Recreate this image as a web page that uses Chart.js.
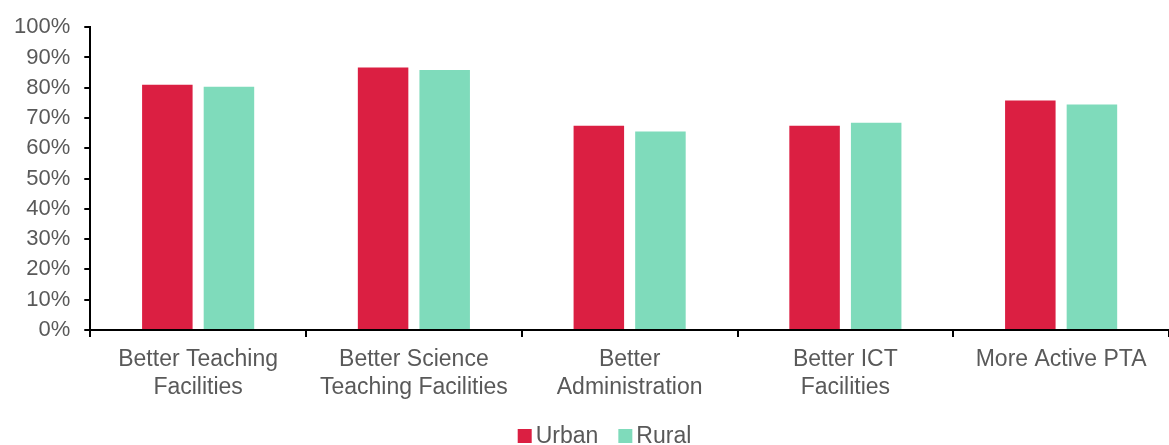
<!DOCTYPE html>
<html>
<head>
<meta charset="utf-8">
<script src="https://cdn.jsdelivr.net/npm/chart.js@4"></script>
<style>
    html, body { margin: 0; padding: 0; background: #fff; overflow: hidden; }
    #wrap { width: 1169px; height: 445px; }
</style>
</head>
<body>
<div id="wrap"><canvas id="chart"></canvas></div>
<script>
const categories = [
    ["Better Teaching", "Facilities"],
    ["Better Science", "Teaching Facilities"],
    ["Better", "Administration"],
    ["Better ICT", "Facilities"],
    "More Active PTA"
];
const urban = [81.0, 86.7, 67.4, 67.4, 75.8];
const rural = [80.3, 85.9, 65.5, 68.4, 74.5];
const yTicks = [0, 10, 20, 30, 40, 50, 60, 70, 80, 90, 100];

const textColor = "#595959";
const fontFamily = "'Liberation Sans', Arial, sans-serif";

// legend drawn by hand so the box/text spacing stays tight
const bottomLegend = {
    id: "bottomLegend",
    afterDraw(chart) {
        const ctx = chart.ctx;
        const box = 14, gap = 4, itemGap = 20;
        const y = 436;
        ctx.save();
        ctx.font = "23px " + fontFamily;
        ctx.textBaseline = "middle";
        const items = chart.data.datasets.map(ds => ({
            label: ds.label,
            color: ds.backgroundColor,
            w: ctx.measureText(ds.label).width
        }));
        let total = 0;
        items.forEach((it, i) => {
            total += box + gap + it.w + (i < items.length - 1 ? itemGap : 0);
        });
        let x = chart.width / 2 + 20 - total / 2;
        items.forEach(it => {
            ctx.fillStyle = it.color;
            ctx.fillRect(x, y - box / 2, box, box);
            x += box + gap;
            ctx.fillStyle = textColor;
            ctx.fillText(it.label, x, y + 1);
            x += it.w + itemGap;
        });
        ctx.restore();
    }
};

new Chart(document.getElementById("chart"), {
    type: "bar",
    data: {
        labels: categories,
        datasets: [
            {
                label: "Urban",
                data: urban,
                backgroundColor: "#DB1F42",
                categoryPercentage: 0.571,
                barPercentage: 0.82
            },
            {
                label: "Rural",
                data: rural,
                backgroundColor: "#7FDBBB",
                categoryPercentage: 0.571,
                barPercentage: 0.82
            }
        ]
    },
    options: {
        responsive: true,
        maintainAspectRatio: false,
        animation: false,
        layout: {
            padding: { top: 18, left: 0, right: 0, bottom: 34 }
        },
        plugins: {
            legend: { display: false },
            tooltip: { enabled: false }
        },
        scales: {
            x: {
                grid: {
                    drawOnChartArea: false,
                    color: "#000",
                    lineWidth: 2,
                    tickLength: 7,
                    offset: true
                },
                border: { color: "#000", width: 2 },
                ticks: {
                    color: textColor,
                    maxRotation: 0,
                    autoSkip: false,
                    padding: 9,
                    font: { family: fontFamily, size: 23, lineHeight: 1.22 }
                }
            },
            y: {
                min: 0,
                max: 100,
                afterBuildTicks(axis) {
                    axis.ticks = yTicks.map(v => ({ value: v }));
                },
                grid: {
                    drawOnChartArea: false,
                    color: "#000",
                    lineWidth: 2,
                    tickLength: 6
                },
                border: { color: "#000", width: 2 },
                ticks: {
                    color: textColor,
                    padding: 14,
                    callback: v => v + "%",
                    font: { family: fontFamily, size: 22 }
                }
            }
        }
    },
    plugins: [bottomLegend]
});
</script>
</body>
</html>
